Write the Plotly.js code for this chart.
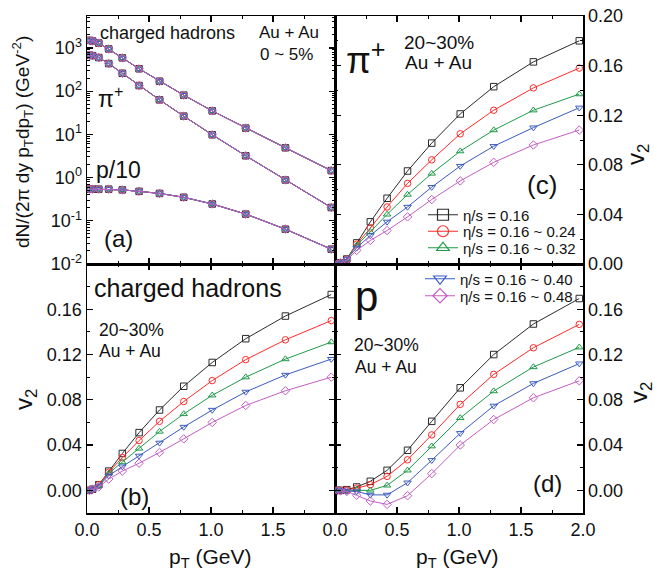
<!DOCTYPE html>
<html>
<head>
<meta charset="utf-8">
<script src="https://cdn.plot.ly/plotly-3.0.1.min.js"></script>
<style>html,body{margin:0;padding:0;background:#fff;}#plot{width:655px;height:577px;}</style>
</head>
<body>
<div id="plot"></div>
<script>
// ---------------- data ----------------
const pT = [0.02, 0.045, 0.095, 0.175, 0.285, 0.42, 0.585, 0.78, 1.01, 1.28, 1.6, 1.97];

const seriesNames = ["η/s = 0.16", "η/s = 0.16 ~ 0.24", "η/s = 0.16 ~ 0.32", "η/s = 0.16 ~ 0.40", "η/s = 0.16 ~ 0.48"];

// (a) spectra (identical for all eta/s)
const specCharged = [1500, 1450, 1300, 950, 590, 330, 170, 81, 35, 14, 4.9, 1.45];
const specPion    = [680, 665, 600, 435, 260, 135, 63, 26.5, 9.8, 3.2, 0.88, 0.203];
const specProton10 = [0.54, 0.54, 0.54, 0.54, 0.52, 0.48, 0.43, 0.35, 0.245, 0.143, 0.064, 0.022];

// (b) charged hadrons v2
const v2Charged = [
  [0, 0.001, 0.005, 0.017, 0.0326, 0.051, 0.071, 0.092, 0.113, 0.134, 0.154, 0.173],
  [0, 0.001, 0.005, 0.016, 0.029, 0.044, 0.061, 0.0785, 0.097, 0.1155, 0.133, 0.150],
  [0, 0.001, 0.004, 0.015, 0.025, 0.037, 0.052, 0.0675, 0.084, 0.100, 0.116, 0.131],
  [0, 0.001, 0.004, 0.013, 0.021, 0.0305, 0.042, 0.056, 0.071, 0.087, 0.102, 0.116],
  [0, 0.001, 0.003, 0.010, 0.017, 0.024, 0.0335, 0.0455, 0.060, 0.075, 0.088, 0.100]
];

// (c) pi+ v2
const v2Pion = [
  [0, 0.001, 0.004, 0.017, 0.034, 0.053, 0.075, 0.0975, 0.121, 0.143, 0.163, 0.180],
  [0, 0.001, 0.004, 0.016, 0.029, 0.046, 0.065, 0.084, 0.105, 0.124, 0.142, 0.158],
  [0, 0.001, 0.004, 0.015, 0.026, 0.040, 0.056, 0.073, 0.091, 0.108, 0.124, 0.137],
  [0, 0.001, 0.004, 0.013, 0.023, 0.034, 0.046, 0.062, 0.079, 0.095, 0.110, 0.126],
  [0, 0.001, 0.003, 0.011, 0.019, 0.027, 0.038, 0.052, 0.067, 0.082, 0.096, 0.108]
];

// (d) proton v2
const v2Proton = [
  [0, 0, 0.0006, 0.003, 0.008, 0.0177, 0.0354, 0.061, 0.0906, 0.120, 0.147, 0.1695],
  [0, 0, 0.0003, 0.002, 0.005, 0.0124, 0.027, 0.049, 0.076, 0.1025, 0.126, 0.1467],
  [0, 0, 0, 0.0006, 0.0, 0.0044, 0.0177, 0.039, 0.064, 0.0877, 0.109, 0.1264],
  [0, 0, -0.0006, -0.001, -0.004, -0.004, 0.0068, 0.0266, 0.0505, 0.0747, 0.0945, 0.112],
  [0, -0.0005, -0.001, -0.0044, -0.0094, -0.0124, -0.0047, 0.0148, 0.040, 0.0626, 0.0818, 0.0968]
];

const logTickVals = [0.01, 0.1, 1, 10, 100, 1000];
const logTickText = ["10<sup>-2</sup>", "10<sup>-1</sup>", "10<sup>0</sup>", "10<sup>1</sup>", "10<sup>2</sup>", "10<sup>3</sup>"];
const v2TickVals = [0, 0.04, 0.08, 0.12, 0.16];
const v2TickValsC = [0, 0.04, 0.08, 0.12, 0.16, 0.20];
const xTickValsB = [0, 0.5, 1.0, 1.5];
const xTickValsD = [0, 0.5, 1.0, 1.5, 2.0];

// ---------------- styles ----------------
const colors = ["#2b2b2b", "#ff2a2a", "#1f9a4a", "#3a5bc0", "#c35ec3"];
const symbols = ["square-open", "circle-open", "triangle-up-open", "triangle-down-open", "diamond-open"];
const FONT = "Liberation Sans, Arial, Helvetica, sans-serif";
const W = 655, H = 577;
const px = v => v / W;
const py = v => 1 - v / H;

const traces = [];
function addSeries(y, xa, ya, i) {
  traces.push({
    x: pT, y: y, xaxis: xa, yaxis: ya, type: "scatter", mode: "lines+markers",
    name: seriesNames[i],
    line: {color: colors[i], width: 1},
    marker: {symbol: symbols[i], size: 6.5, color: colors[i], line: {width: 1, color: colors[i]}},
    showlegend: false
  });
}
[specCharged, specPion, specProton10].forEach(s => {
  for (let i = 0; i < 5; i++) addSeries(s, "x", "y", i);
});
for (let i = 0; i < 5; i++) addSeries(v2Pion[i], "x2", "y2", i);
for (let i = 0; i < 5; i++) addSeries(v2Charged[i], "x3", "y3", i);
for (let i = 0; i < 5; i++) addSeries(v2Proton[i], "x4", "y4", i);

// legend entries (legend-only proxies with no data, larger symbols like the reference)
const legendIds = ["legend", "legend2", "legend3", "legend4", "legend5"];
for (let i = 0; i < 5; i++) {
  traces.push({
    x: [null], y: [null], xaxis: "x2", yaxis: "y2", type: "scatter", mode: "lines+markers",
    name: seriesNames[i], legend: legendIds[i], showlegend: true,
    line: {color: colors[i], width: 1},
    marker: {symbol: symbols[i], size: 11, color: colors[i], line: {width: 1.2, color: colors[i]}}
  });
}

const xd1 = [px(87), px(335)], xd2 = [px(335), px(583)];
const ydT = [py(264), py(16)], ydB = [py(513), py(264)];

function axBase(extra) {
  return Object.assign({
    showline: true, linecolor: "#000", linewidth: 1.5, mirror: "ticks",
    ticks: "inside", ticklen: 6, tickwidth: 1.2, tickcolor: "#000",
    showgrid: false, zeroline: false, fixedrange: true,
    tickfont: {family: FONT, size: 18, color: "#111"}
  }, extra);
}
const xMinor = {ticks: "inside", ticklen: 3, tickwidth: 1, tickcolor: "#000", dtick: 0.25, showgrid: false};
const yMinor = {ticks: "inside", ticklen: 3, tickwidth: 1, tickcolor: "#000", dtick: 0.02, showgrid: false};

function ann(text, x, y, size, extra) {
  return Object.assign({
    text: text, x: px(x), y: py(y), xref: "paper", yref: "paper",
    xanchor: "center", yanchor: "middle", showarrow: false,
    font: {family: FONT, size: size, color: "#111"}
  }, extra || {});
}
function leg(x, y) {
  return {x: px(x), y: py(y), xanchor: "left", yanchor: "middle", bgcolor: "rgba(0,0,0,0)",
          borderwidth: 0, font: {family: FONT, size: 15, color: "#111"}};
}

const layout = {
  width: W, height: H,
  margin: {l: 0, r: 0, t: 0, b: 0},
  paper_bgcolor: "#fff", plot_bgcolor: "rgba(0,0,0,0)",
  showlegend: true,
  xaxis: axBase({domain: xd1, anchor: "y", range: [0, 2], showticklabels: false, minor: xMinor}),
  yaxis: axBase({domain: ydT, anchor: "x", type: "log", range: [-2, 3.74], tickvals: logTickVals, ticktext: logTickText,
                 minor: {ticks: "inside", ticklen: 3, tickwidth: 1, tickcolor: "#000", dtick: "D1", showgrid: false}}),
  xaxis2: axBase({domain: xd2, anchor: "y2", range: [0, 2], showticklabels: false, minor: xMinor}),
  yaxis2: axBase({domain: ydT, anchor: "x2", side: "right", range: [0, 0.2], tickvals: v2TickValsC, tickformat: ".2f", minor: yMinor}),
  xaxis3: axBase({domain: xd1, anchor: "y3", range: [0, 2], tickvals: xTickValsB, tickformat: ".1f", minor: xMinor}),
  yaxis3: axBase({domain: ydB, anchor: "x3", range: [-0.02, 0.2], tickvals: v2TickVals, tickformat: ".2f", minor: yMinor}),
  xaxis4: axBase({domain: xd2, anchor: "y4", range: [0, 2], tickvals: xTickValsD, tickformat: ".1f", minor: xMinor}),
  yaxis4: axBase({domain: ydB, anchor: "x4", side: "right", range: [-0.02, 0.2], tickvals: v2TickVals, tickformat: ".2f", minor: yMinor}),
  legend: leg(423, 215),
  legend2: leg(423, 231.5),
  legend3: leg(423, 248),
  legend4: leg(420, 279),
  legend5: leg(420, 296),
  annotations: [
    // (a)
    ann("charged hadrons", 167, 33, 18),
    ann("Au + Au", 289, 33, 17),
    ann("0 ~ 5%", 286, 55, 17),
    ann("π<sup>+</sup>", 111, 97, 23),
    ann("p/10", 118, 170, 23),
    ann("(a)", 118, 238, 24),
    // (c)
    ann("π<sup>+</sup>", 366, 58, 36),
    ann("20~30%", 439, 42, 19),
    ann("Au + Au", 438, 63, 19),
    ann("(c)", 542, 185, 26),
    // (b)
    ann("charged hadrons", 188, 288, 25),
    ann("20~30%", 131, 330, 17.5),
    ann("Au + Au", 130, 351, 17.5),
    ann("(b)", 134, 497, 24),
    // (d)
    ann("p", 367, 296, 42),
    ann("20~30%", 386, 345, 17.5),
    ann("Au + Au", 386, 367, 17.5),
    ann("(d)", 547, 483, 24),
    // axis titles
    ann("dN/(2π dy p<sub>T</sub>dp<sub>T</sub>) (GeV<sup>-2</sup>)", 22, 142, 19, {textangle: -90}),
    ann("v<sub>2</sub>", 25, 400, 24, {textangle: -90}),
    ann("v<sub>2</sub>", 638, 155, 24, {textangle: -90}),
    ann("v<sub>2</sub>", 640, 393, 24, {textangle: -90}),
    ann("p<sub>T</sub> (GeV)", 210, 558, 21),
    ann("p<sub>T</sub> (GeV)", 457, 558, 21)
  ]
};

Plotly.newPlot("plot", traces, layout, {staticPlot: true, displayModeBar: false});
</script>
</body>
</html>
